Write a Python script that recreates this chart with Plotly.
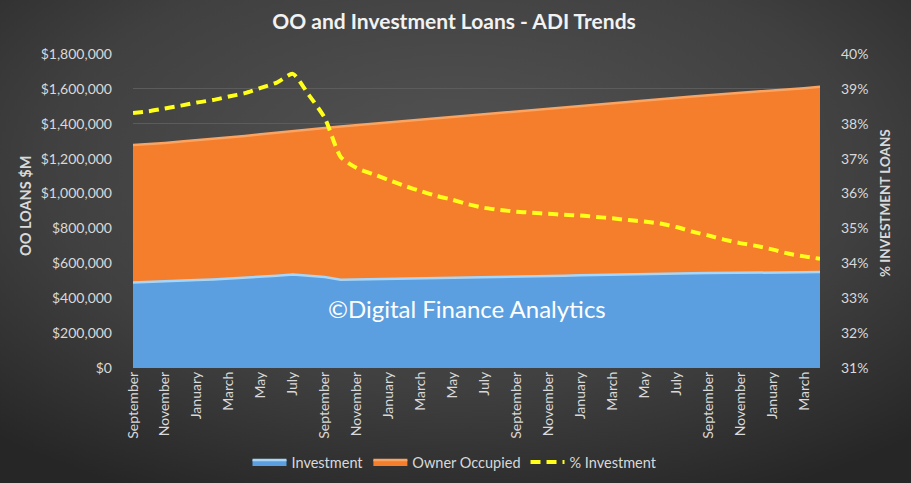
import base64
import plotly.graph_objects as go

# ---------------- data ----------------
months = [
    "Sep 2014", "Oct 2014", "Nov 2014", "Dec 2014", "Jan 2015", "Feb 2015", "Mar 2015", "Apr 2015",
    "May 2015", "Jun 2015", "Jul 2015", "Aug 2015", "Sep 2015", "Oct 2015", "Nov 2015", "Dec 2015",
    "Jan 2016", "Feb 2016", "Mar 2016", "Apr 2016", "May 2016", "Jun 2016", "Jul 2016", "Aug 2016",
    "Sep 2016", "Oct 2016", "Nov 2016", "Dec 2016", "Jan 2017", "Feb 2017", "Mar 2017", "Apr 2017",
    "May 2017", "Jun 2017", "Jul 2017", "Aug 2017", "Sep 2017", "Oct 2017", "Nov 2017", "Dec 2017",
    "Jan 2018", "Feb 2018", "Mar 2018", "Apr 2018",
]

tick_labels = [
    "September", "November", "January", "March", "May", "July",
    "September", "November", "January", "March", "May", "July",
    "September", "November", "January", "March", "May", "July",
    "September", "November", "January", "March",
]

investment = [
    489600, 492200, 495900, 500000, 503900, 507500, 511900, 517100, 523000, 528900, 536200,
    531200, 522000, 506000, 507500, 509500, 511000, 512500, 513600, 514500, 515800, 516800,
    518200, 520200, 522300, 524700, 527000, 529400, 532000, 534200, 536400, 538500, 540700,
    542200, 543100, 543500, 544300, 544500, 545000, 546100, 547000, 547400, 548600, 550200,
]

owner_occupied = [
    788400, 790800, 794100, 798000, 801100, 804500, 808100, 812900, 817000, 821100, 823800,
    836800, 854000, 878000, 884500, 890500, 897000, 903500, 910400, 917500, 924200, 931200,
    937800, 943800, 949700, 955300, 961000, 966600, 972000, 977800, 983600, 989500, 995300,
    1000800, 1006900, 1013500, 1019700, 1025500, 1031000, 1036900, 1043000, 1049600, 1055400, 1061800,
]

pct_investment = [
    38.31, 38.36, 38.44, 38.52, 38.61, 38.68, 38.78, 38.88, 39.03, 39.18, 39.43,
    38.83, 38.17, 37.05, 36.73, 36.56, 36.39, 36.22, 36.07, 35.93, 35.82, 35.69,
    35.59, 35.53, 35.48, 35.45, 35.42, 35.39, 35.37, 35.33, 35.29, 35.24, 35.20,
    35.14, 35.04, 34.91, 34.80, 34.68, 34.58, 34.50, 34.40, 34.28, 34.20, 34.13,
]

left_ticks = [0, 200000, 400000, 600000, 800000, 1000000, 1200000, 1400000, 1600000, 1800000]
right_ticks = [31, 32, 33, 34, 35, 36, 37, 38, 39, 40]

# ---------------- figure ----------------
W, H = 911, 483
ML, MR, MT, MB = 133, 91, 54, 115
PW, PH = W - ML - MR, H - MT - MB

TXT = "#d9d9d9"
FONT = "Lato, 'Open Sans', 'DejaVu Sans', sans-serif"

fig = go.Figure()

fig.add_trace(go.Scatter(
    x=months, y=investment, name="Investment", stackgroup="loans", mode="lines",
    line=dict(color="#a9d6f7", width=2.5), fillcolor="#5b9fe0",
))
fig.add_trace(go.Scatter(
    x=months, y=owner_occupied, name="Owner Occupied", stackgroup="loans", mode="lines",
    line=dict(color="#f9a463", width=2.5), fillcolor="#f47e2c",
))
fig.add_trace(go.Scatter(
    x=months, y=pct_investment, name="% Investment", mode="lines", yaxis="y2",
    line=dict(color="#ffff1a", width=4, dash="10px,6px", shape="spline", smoothing=0.6),
))

# radial gradient background
svg = (
    '<svg xmlns="http://www.w3.org/2000/svg" width="911" height="483">'
    '<defs><radialGradient id="g" cx="50%" cy="35%" r="75%">'
    '<stop offset="0%" stop-color="#545454"/>'
    '<stop offset="60%" stop-color="#404040"/>'
    '<stop offset="100%" stop-color="#262626"/>'
    '</radialGradient></defs>'
    '<rect width="911" height="483" fill="url(#g)"/></svg>'
)
src = "data:image/svg+xml;base64," + base64.b64encode(svg.encode()).decode()

fig.update_layout(
    width=W, height=H,
    margin=dict(l=ML, r=MR, t=MT, b=MB, autoexpand=False),
    paper_bgcolor="#3c3c3c",
    plot_bgcolor="rgba(0,0,0,0)",
    font=dict(family=FONT, color=TXT, size=13),
    images=[dict(
        source=src, xref="paper", yref="paper",
        x=-ML / PW, y=1 + MT / PH, sizex=W / PW, sizey=H / PH,
        xanchor="left", yanchor="top", sizing="stretch", layer="below",
    )],
    title=dict(
        text="<b>OO and Investment Loans - ADI Trends</b>",
        x=(454 - ML) / PW, xanchor="center", xref="paper", y=1 - 22 / H, yanchor="middle",
        yref="container",
        font=dict(size=21, color="#f2f2f2", family=FONT),
    ),
    xaxis=dict(
        type="category", range=[0, len(months) - 1], automargin=False,
        tickmode="array", tickvals=months[::2], ticktext=tick_labels,
        tickangle=-90, tickfont=dict(size=14, color=TXT),
        showgrid=False, showline=False, zeroline=False, ticks="",
    ),
    yaxis=dict(
        range=[0, 1800000], automargin=False, tickmode="array", tickvals=left_ticks,
        ticktext=[f"${v:,}" for v in left_ticks],
        tickfont=dict(size=14, color=TXT), ticklabelstandoff=20,
        showgrid=True, gridcolor="#5c5c5c", gridwidth=1, zeroline=False, showline=False,
    ),
    yaxis2=dict(
        range=[31, 40], automargin=False, tickmode="array", tickvals=right_ticks,
        ticktext=[f"{v}%" for v in right_ticks],
        overlaying="y", side="right", tickfont=dict(size=14, color=TXT),
        ticklabelstandoff=20, showgrid=False, zeroline=False, showline=False,
    ),
    legend=dict(
        orientation="h", x=(455 - ML) / PW, xanchor="center", y=-(462 - MT - PH) / PH,
        yanchor="middle", font=dict(size=14.5, color=TXT), bgcolor="rgba(0,0,0,0)",
        itemwidth=34, traceorder="normal",
    ),
    annotations=[
        dict(text="<b>OO LOANS $M</b>", xref="paper", yref="paper",
             x=-(ML - 25) / PW, y=(MT + PH - 206) / PH, textangle=-90, showarrow=False,
             xanchor="center", yanchor="middle", font=dict(size=14.5, color=TXT)),
        dict(text="<b>% INVESTMENT LOANS</b>", xref="paper", yref="paper",
             x=1 + (885 - ML - PW) / PW, y=(MT + PH - 203) / PH, textangle=-90, showarrow=False,
             xanchor="center", yanchor="middle", font=dict(size=13.5, color=TXT)),
        dict(text="©Digital Finance Analytics", xref="paper", yref="paper",
             x=(467 - ML) / PW, y=(MT + PH - 308) / PH, showarrow=False,
             xanchor="center", yanchor="middle", font=dict(size=24, color="#ffffff")),
    ],
)

fig.write_html(
    "out.html",
    config={"displayModeBar": False},
    post_script="document.body.style.margin='0px';document.body.style.background='#2a2a2a';",
)
